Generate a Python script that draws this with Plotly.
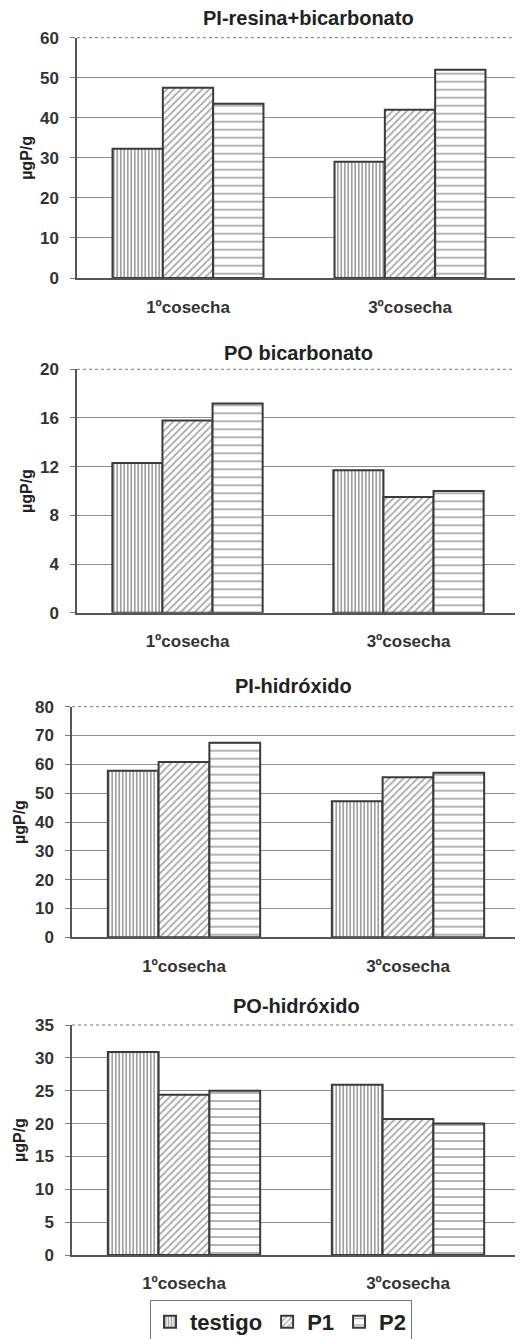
import plotly.graph_objects as go

# The page body has an 8px default margin, so the figure is drawn 8px in;
# layout pixel positions below are reference-window pixels, shifted by OFF.
OFF = 8
W, H = 523 - OFF, 1339 - OFF

categories = ["1ºcosecha", "3ºcosecha"]
series_names = ["testigo", "P1", "P2"]

titles = ["PI-resina+bicarbonato", "PO bicarbonato", "PI-hidróxido", "PO-hidróxido"]

testigo_vals = [[32.3, 29.0], [12.3, 11.7], [57.8, 47.2], [30.9, 25.9]]
p1_vals = [[47.5, 42.0], [15.8, 9.5], [60.8, 55.5], [24.4, 20.7]]
p2_vals = [[43.5, 52.0], [17.2, 10.0], [67.5, 57.1], [25.0, 20.0]]

y_ranges = [[0, 60], [0, 20], [0, 80], [0, 35]]
y_dticks = [10, 4, 10, 5]
y_title = "µgP/g"

# layout in reference-window pixels: (left, right, top, bottom)
panels_px = [
    (77, 521, 37.7, 278.0),
    (77, 519, 369.3, 612.7),
    (72, 520, 706.7, 937.3),
    (72, 520, 1025.0, 1255.0),
]
title_px = [(308, 18), (298, 353), (293, 686), (296, 1006)]
ytitle_x = [27, 27, 19, 19]
xlabel_standoff = [13, 12, 13, 12]


def px_x(p):
    return (p - OFF) / W


def px_y(p):
    return 1 - (p - OFF) / H


patterns = [
    dict(shape="|", size=3.5, solidity=0.5, fgcolor="#444444", bgcolor="white"),
    dict(shape="/", size=5, solidity=0.35, fgcolor="#555555", bgcolor="white"),
    dict(shape="-", size=8, solidity=0.22, fgcolor="#555555", bgcolor="white"),
]

FONT = "Liberation Sans"

fig = go.Figure()

all_vals = [testigo_vals, p1_vals, p2_vals]
for i in range(4):
    xa = "x" if i == 0 else f"x{i+1}"
    ya = "y" if i == 0 else f"y{i+1}"
    for s in range(3):
        fig.add_trace(go.Bar(
            x=categories, y=all_vals[s][i], name=series_names[s],
            xaxis=xa, yaxis=ya,
            marker=dict(color="white", pattern=patterns[s],
                        line=dict(color="#3a3a3a", width=2)),
            showlegend=(i == 0), legendgroup=series_names[s],
        ))

layout = dict(
    width=W, height=H,
    margin=dict(l=0, r=0, t=0, b=0, autoexpand=False),
    paper_bgcolor="white", plot_bgcolor="white",
    barmode="group", bargap=0.32, bargroupgap=0,
    font=dict(family=FONT, color="#333333"),
    legend=dict(orientation="h", x=px_x(281), xanchor="center",
                y=px_y(1300), yanchor="top",
                bordercolor="#777777", borderwidth=1,
                font=dict(size=22, family=FONT, color="#222222", weight="bold"),
                itemwidth=30, tracegroupgap=0),
)
annotations = []
shapes = []
for i, (l, r, t, b) in enumerate(panels_px):
    sfx = "" if i == 0 else str(i + 1)
    layout[f"xaxis{sfx}"] = dict(
        domain=[px_x(l), px_x(r)], anchor=f"y{sfx}", automargin=False,
        showline=True, linecolor="#555555", linewidth=1.5,
        showgrid=False, ticks="", ticklabelstandoff=xlabel_standoff[i],
        tickfont=dict(size=17, family=FONT, color="#333333", weight="bold"),
    )
    layout[f"yaxis{sfx}"] = dict(
        domain=[px_y(b), px_y(t)], anchor=f"x{sfx}", automargin=False,
        range=y_ranges[i], dtick=y_dticks[i],
        showline=True, linecolor="#555555", linewidth=1.5,
        showgrid=True, gridcolor="#8f8f8f", gridwidth=1,
        ticks="outside", ticklen=5, tickcolor="#777777",
        ticklabelstandoff=8, zeroline=False,
        tickfont=dict(size=17, family=FONT, color="#333333", weight="bold"),
    )
    annotations.append(dict(
        text=titles[i], x=px_x(title_px[i][0]), y=px_y(title_px[i][1]),
        xref="paper", yref="paper", showarrow=False,
        xanchor="center", yanchor="middle",
        font=dict(size=20, family=FONT, color="#222222", weight="bold"),
    ))
    annotations.append(dict(
        text=y_title, x=px_x(ytitle_x[i]), y=px_y((t + b) / 2),
        xref="paper", yref="paper", showarrow=False, textangle=-90,
        xanchor="center", yanchor="middle",
        font=dict(size=16, family=FONT, color="#222222", weight="bold"),
    ))
    # dotted top/right frame
    shapes.append(dict(type="line", xref=f"x{sfx} domain", yref=f"y{sfx} domain",
                       x0=0, x1=1, y0=1, y1=1,
                       line=dict(color="#777777", width=1, dash="dot")))
    shapes.append(dict(type="line", xref=f"x{sfx} domain", yref=f"y{sfx} domain",
                       x0=1, x1=1, y0=0, y1=1,
                       line=dict(color="#777777", width=1, dash="dot")))

layout["annotations"] = annotations
layout["shapes"] = shapes
fig.update_layout(**layout)

fig.write_html("out.html")
